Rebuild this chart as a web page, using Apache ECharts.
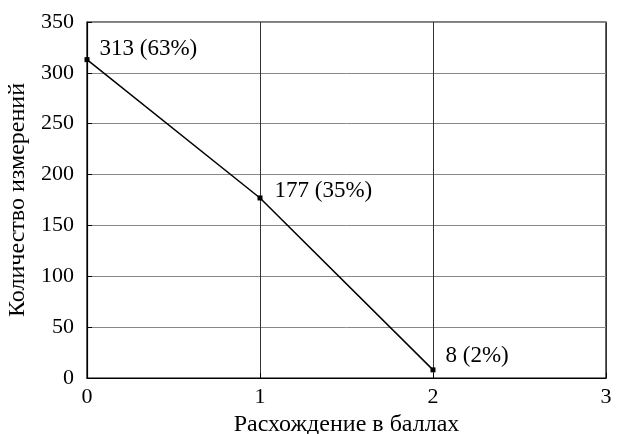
<!DOCTYPE html>
<html><head><meta charset="utf-8">
<script src="https://cdn.jsdelivr.net/npm/echarts@6/dist/echarts.min.js"></script>
<style>html,body{margin:0;padding:0;background:#fff}#c{width:618px;height:434px}</style>
</head><body><div id="c"></div>
<script>
const xValues = [0, 1, 2];
const counts = [313, 177, 8];
const percents = ['63%', '35%', '2%'];
const xTicks = [0, 1, 2, 3];
const yTicks = [0, 50, 100, 150, 200, 250, 300, 350];
const xName = 'Расхождение в баллах';
const yName = 'Количество измерений';

const font = 'Liberation Serif, DejaVu Serif, serif';
const labelOffsets = [[1, -11], [3, -7], [1, -14]];
const data = xValues.map((x, i) => ({
  value: [x, counts[i]],
  label: { offset: labelOffsets[i] }
}));

const chart = echarts.init(document.getElementById('c'));
chart.setOption({
  backgroundColor: '#fff',
  animation: false,
  grid: { left: 87, right: 12, top: 22, bottom: 56, show: true, borderColor: '#000', borderWidth: 1.2,
          outerBoundsMode: 'none', containLabel: false },
  xAxis: {
    type: 'value', min: xTicks[0], max: xTicks[xTicks.length - 1], interval: 1,
    name: xName, nameLocation: 'middle', nameGap: 31,
    nameTextStyle: { fontFamily: font, fontSize: 24, color: '#000' },
    axisLine: { lineStyle: { color: '#000', width: 1.2 } },
    axisTick: { inside: true, length: 5, lineStyle: { color: '#000' } },
    axisLabel: { fontFamily: font, fontSize: 22, color: '#000', margin: 8 },
    splitLine: { show: true, lineStyle: { color: '#333', width: 1 } }
  },
  yAxis: {
    type: 'value', min: yTicks[0], max: yTicks[yTicks.length - 1], interval: 50,
    name: yName, nameLocation: 'middle', nameGap: 55,
    nameTextStyle: { fontFamily: font, fontSize: 24, color: '#000' },
    axisLine: { show: true, lineStyle: { color: '#000', width: 1.2 } },
    axisTick: { inside: true, length: 5, lineStyle: { color: '#000' } },
    axisLabel: { fontFamily: font, fontSize: 22, color: '#000', margin: 13 },
    splitLine: { show: true, lineStyle: { color: '#888', width: 1 } }
  },
  series: [{
    type: 'line', data: data,
    symbol: 'rect', symbolSize: 5,
    itemStyle: { color: '#000' },
    lineStyle: { color: '#000', width: 1.5 },
    label: {
      show: true, position: 'right', distance: 9,
      fontFamily: font, fontSize: 23, color: '#000',
      formatter: p => counts[p.dataIndex] + ' (' + percents[p.dataIndex] + ')'
    }
  }]
});
</script></body></html>
